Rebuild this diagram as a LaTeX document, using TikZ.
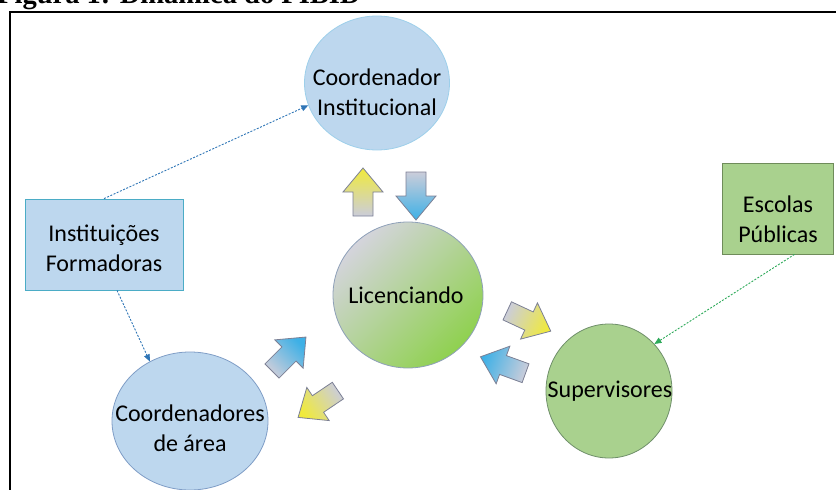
\documentclass[tikz,border=0pt]{standalone}
\usepackage{fontspec}
\setmainfont{Carlito}
\newfontfamily\titlefont{Liberation Serif}
\usetikzlibrary{shapes.geometric,calc,arrows.meta}
\definecolor{lblue}{HTML}{BDD7EE}
\definecolor{lgreen}{HTML}{A9D18E}
\definecolor{ciborder}{HTML}{9DCFEA}
\definecolor{instborder}{HTML}{4BACC6}
\definecolor{caborder}{HTML}{7F9DC6}
\definecolor{supborder}{HTML}{6F8F6A}
\definecolor{escborder}{HTML}{6F8C5A}
\definecolor{licborder}{HTML}{8EA0B8}
\definecolor{arrborder}{HTML}{7C8095}
\definecolor{agray}{HTML}{CBCDDA}
\definecolor{ayellow}{HTML}{F0EA3C}
\definecolor{ablue}{HTML}{3DB0E6}
\definecolor{lgray}{HTML}{D4D4DC}
\definecolor{lgrn}{HTML}{8FD14F}
\definecolor{connblue}{HTML}{2E75B6}
\definecolor{conngreen}{HTML}{2EAA5A}
\newcommand\blockarr[5]{%
 \shadedraw[draw=arrborder, line width=0.8pt, line join=miter, top color=#4, bottom color=#5, shading angle=#3]
  ($#1+(#2:-24)+(#2+90:-10)$) -- ($#1+(#2:0)+(#2+90:-10)$) -- ($#1+(#2:0)+(#2+90:-20)$) -- ($#1+(#2:24)$) -- ($#1+(#2:0)+(#2+90:20)$) -- ($#1+(#2:0)+(#2+90:10)$) -- ($#1+(#2:-24)+(#2+90:10)$) -- cycle;}
\begin{document}
\begin{tikzpicture}[x=1pt,y=1pt,
  txt/.style={font=\fontsize{24}{30}\selectfont, align=center, text=black, inner sep=0pt},
  circ/.style={ellipse, line width=0.8pt, inner sep=0pt},
  boxn/.style={rectangle, line width=0.8pt, inner sep=0pt},
  conn/.style={line width=0.9pt, dash pattern=on 2pt off 1.5pt, -{Triangle[length=7pt,width=6pt]}}]
\useasboundingbox (0,0) rectangle (836,-490);
\clip (0,0) rectangle (836,-490);
% title (cut off as in the source)
\node[anchor=base west, inner sep=0pt, font=\titlefont\bfseries\fontsize{28.5}{32}\selectfont] (title) at (-3,-3) {Figura 1: Dinâmica do PIBID};
% frame
\draw[line width=2pt] (836,-12) -- (9.5,-12) -- (9.5,-492);
% shapes
\node[circ, fill=lblue, draw=ciborder, minimum width=145, minimum height=134] (ci) at (377,-83) {};
\node[boxn, fill=lblue, draw=instborder, minimum width=158, minimum height=91] (inst) at (104,-244.5) {};
\node[boxn, fill=lgreen, draw=escborder, minimum width=111, minimum height=91] (esc) at (777.5,-208.5) {};
\node[circ, draw=licborder, top color=lgray, bottom color=lgrn, shading angle=45, minimum width=150, minimum height=146] (lic) at (408,-295) {};
\node[circ, fill=lgreen, draw=supborder, minimum width=126, minimum height=134] (sup) at (609,-391) {};
\node[circ, fill=lblue, draw=caborder, minimum width=156, minimum height=138] (ca) at (190,-421) {};
% texts
\node[txt] (ci-t) at (377,-92) {Coordenador\\Institucional};
\node[txt] (inst-t) at (104,-248) {Instituições\\Formadoras};
\node[txt] (esc-t) at (778,-219) {Escolas\\Públicas};
\node[txt] (lic-t) at (406,-295) {Licenciando};
\node[txt] (sup-t) at (610,-391) {Supervisores};
\node[txt] (ca-t) at (190,-428) {Coordenadores\\de área};
% connectors
\draw[conn, connblue] (inst.north) -- (ci.198);
\draw[conn, connblue] ([xshift=13pt]inst.south) -- (ca.124);
\draw[conn, conngreen] ([xshift=17pt]esc.south) -- (sup.46);
% block arrows
\blockarr{(363,-192)}{90}{0}{ayellow}{agray}
\blockarr{(416,-196)}{-90}{-180}{ablue}{agray}
\blockarr{(289,-354)}{45}{-45}{ablue}{agray}
\blockarr{(318,-404)}{214}{124}{ayellow}{agray}
\blockarr{(529,-321)}{-25}{-115}{ayellow}{agray}
\blockarr{(503,-365)}{160}{70}{ablue}{agray}
\end{tikzpicture}
\end{document}
